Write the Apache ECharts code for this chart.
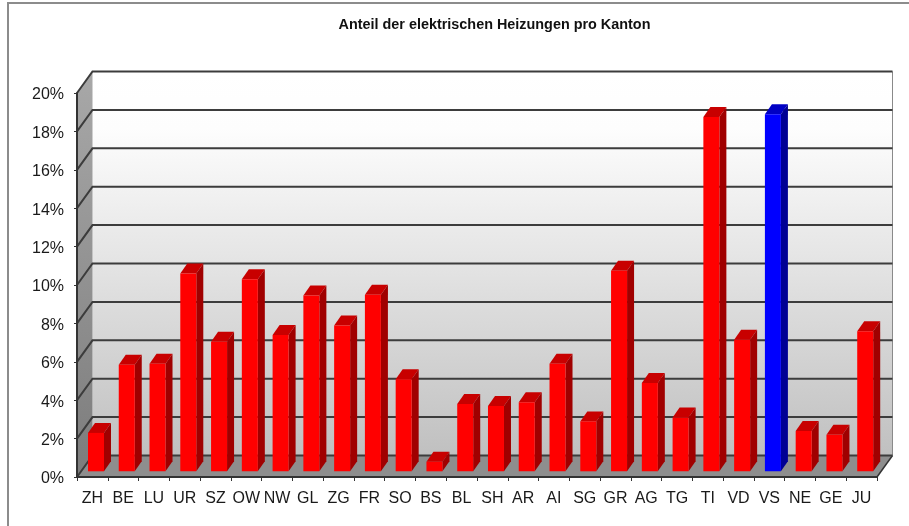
<!DOCTYPE html>
<html lang="de">
<head>
    <title>Anteil der elektrischen Heizungen pro Kanton</title>
    <meta charset="utf-8">
    <style>
        html,body{margin:0; padding:0; background:#fff;}
        #container{width: 909px; height: 526px;}
    </style>
</head>

<body>
<div id="container"></div>

<script src="https://cdn.jsdelivr.net/npm/echarts@6/dist/echarts.min.js"></script>
<script>
var kantone = ['ZH','BE','LU','UR','SZ','OW','NW','GL','ZG','FR','SO','BS','BL','SH','AR','AI','SG','GR','AG','TG','TI','VD','VS','NE','GE','JU'];
var anteil = [2.0,5.55,5.6,10.3,6.75,10.0,7.1,9.15,7.6,9.2,4.8,0.5,3.5,3.4,3.6,5.6,2.6,10.45,4.6,2.8,18.45,6.85,18.6,2.1,1.9,7.3];
var yTicks = [0,2,4,6,8,10,12,14,16,18,20];
var markiert = 'VS';

// 3D-Versatz in Pixel
var WALL_DX = 15.5, WALL_DY = -21.5;
var BAR_DX = 3.6, BAR_DY = -5.7;
var DEPTH_DX = 7, DEPTH_DY = -10;

function poly(points, color){
    return {type:'polygon', shape:{points:points}, style:{fill:color}};
}

// Rueckwand, Seitenwand, Boden
function renderWalls(params, api){
    var g = params.coordSys;
    var l = g.x, r = g.x + g.width, b = g.y + g.height, t = g.y;
    return {type:'group', children:[
        poly([[l+WALL_DX,t+WALL_DY],[r+WALL_DX,t+WALL_DY],[r+WALL_DX,b+WALL_DY],[l+WALL_DX,b+WALL_DY]],
            new echarts.graphic.LinearGradient(0,0,0,1,[{offset:0,color:'#ffffff'},{offset:0.15,color:'#fdfdfd'},{offset:1,color:'#c0c0c0'}])),
        poly([[l,t],[l+WALL_DX,t+WALL_DY],[l+WALL_DX,b+WALL_DY],[l,b]],
            new echarts.graphic.LinearGradient(0,0,0,1,[{offset:0,color:'#a8a8a8'},{offset:1,color:'#7c7c7c'}])),
        poly([[l,b],[l+WALL_DX,b+WALL_DY],[r+WALL_DX,b+WALL_DY],[r,b]], '#8e8e8e'),
        {type:'line', shape:{x1:r+WALL_DX,y1:t+WALL_DY,x2:r+WALL_DX,y2:b+WALL_DY}, style:{stroke:'#8a8a8a',lineWidth:1}},
        {type:'line', shape:{x1:r,y1:b,x2:r+WALL_DX,y2:b+WALL_DY}, style:{stroke:'#333',lineWidth:1.5}}
    ]};
}

// Gitterlinien laufen ueber Seitenwand und Rueckwand
function renderGrid(params, api){
    var g = params.coordSys;
    var y = api.coord([0, api.value(0)])[1];
    return {type:'polyline', shape:{points:[[g.x,y],[g.x+WALL_DX,y+WALL_DY],[g.x+g.width+WALL_DX,y+WALL_DY]]},
        style:{fill:'none',stroke:'#3c3c3c',lineWidth:2}};
}

function renderBar(params, api){
    var i = api.value(0);
    var top = api.coord([i, api.value(1)]);
    var base = api.coord([i, 0]);
    var w = api.size([1,0])[0] * 0.52;
    var x0 = top[0] + BAR_DX - w/2, x1 = x0 + w;
    var y0 = top[1] + BAR_DY, y1 = base[1] + BAR_DY;
    var isBlue = kantone[i] === markiert;
    return {type:'group', children:[
        poly([[x0,y0],[x0+DEPTH_DX,y0+DEPTH_DY],[x1+DEPTH_DX,y0+DEPTH_DY],[x1,y0]], isBlue ? '#0000c4' : '#c80000'),
        poly([[x1,y0],[x1+DEPTH_DX,y0+DEPTH_DY],[x1+DEPTH_DX,y1+DEPTH_DY],[x1,y1]], isBlue ? '#000094' : '#a00000'),
        {type:'rect', shape:{x:x0,y:y0,width:w,height:y1-y0}, style:{fill:isBlue ? '#0000ff' : '#ff0000'}}
    ]};
}

var myChart = echarts.init(document.getElementById("container"), null, {renderer:'canvas'});
var options = {
    animation:false,
    backgroundColor:'#ffffff',
    title:{
        text:'Anteil der elektrischen Heizungen pro Kanton',
        left:489.5,
        textAlign:'center',
        top:13,
        textStyle:{fontFamily:'Liberation Sans',fontSize:14.4,fontWeight:'bold',color:'#111'}
    },
    graphic:[{
        type:'polyline',
        shape:{points:[[8,526],[8,3],[909,3]]},
        style:{fill:'none',stroke:'#8c8c8c',lineWidth:2}
    }],
    grid:{left:77,right:32,top:93,bottom:49},
    xAxis:{
        type:'category',
        data:kantone,
        z:10,
        axisLine:{lineStyle:{color:'#333',width:2}},
        axisTick:{show:true,length:4,alignWithLabel:false,lineStyle:{color:'#333',width:1}},
        axisLabel:{interval:0,hideOverlap:false,margin:14,fontFamily:'Liberation Sans',fontSize:16,color:'#1a1a1a'}
    },
    yAxis:{
        type:'value',
        min:0,
        max:20,
        interval:2,
        z:10,
        splitLine:{show:false},
        axisLine:{show:true,lineStyle:{color:'#333',width:2}},
        axisTick:{show:true,length:3,lineStyle:{color:'#333',width:1}},
        axisLabel:{formatter:'{value}%',margin:13,verticalAlign:'top',lineHeight:4,fontFamily:'Liberation Sans',fontSize:16,color:'#1a1a1a'}
    },
    series:[
        {name:'Wand',type:'custom',renderItem:renderWalls,data:[[0]],silent:true,z:1,clip:false},
        {name:'Gitter',type:'custom',renderItem:renderGrid,data:yTicks.map(function(v){return [v];}),encode:{y:0},silent:true,z:2,clip:false},
        {name:'Anteil',type:'custom',renderItem:renderBar,data:anteil.map(function(v,i){return [i,v];}),encode:{x:0,y:1},z:3,clip:false}
    ]
};
myChart.setOption(options);
</script>
</body>
</html>
